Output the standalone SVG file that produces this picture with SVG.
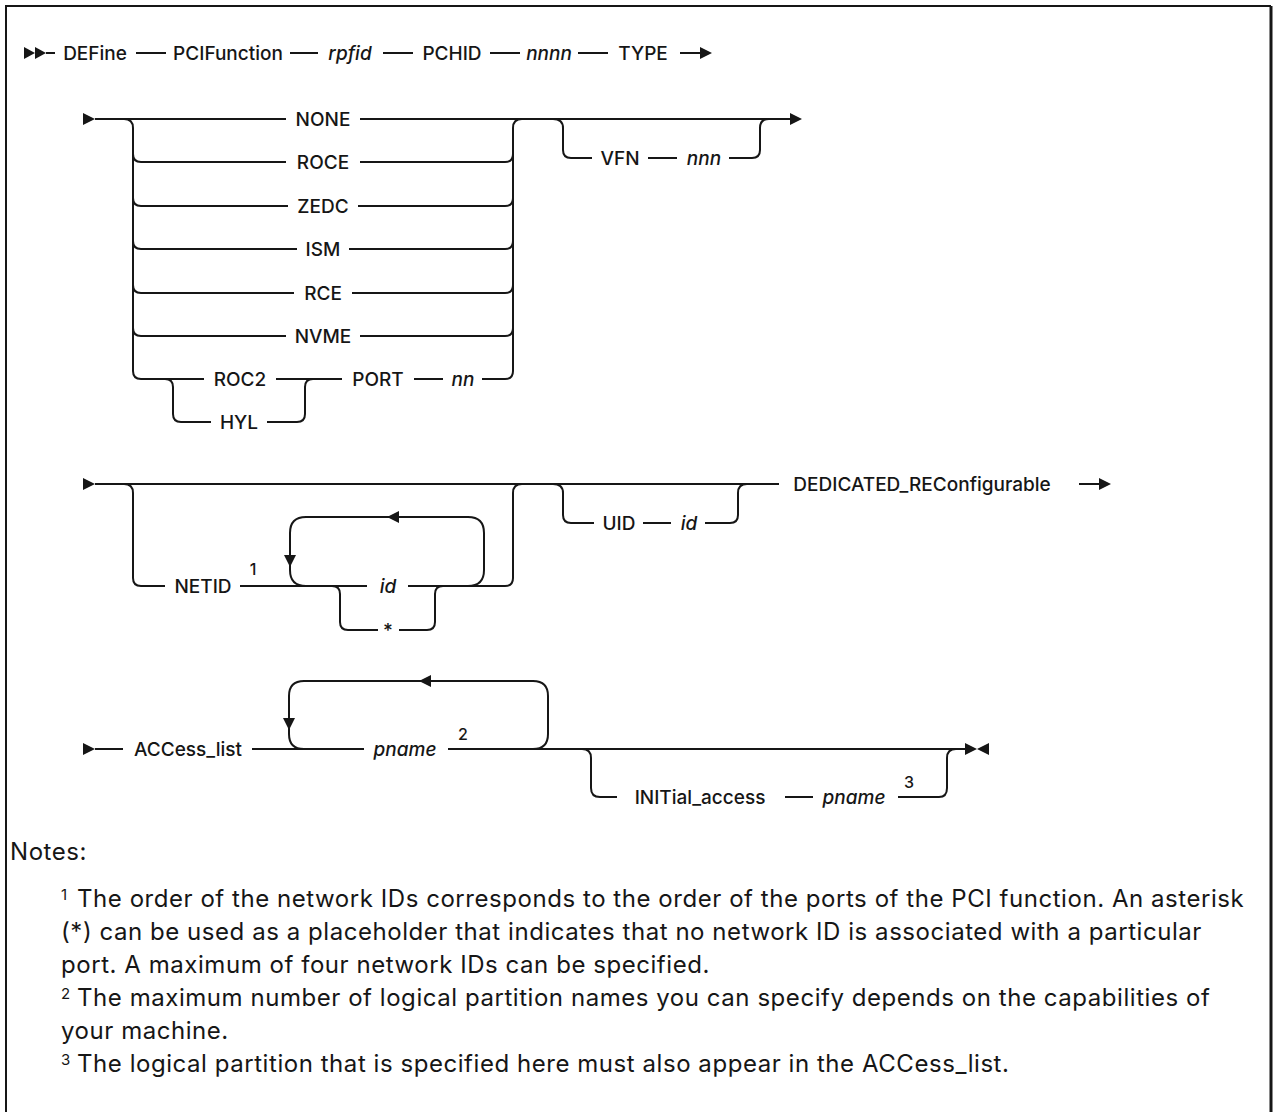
<svg xmlns="http://www.w3.org/2000/svg" width="1274" height="1112" viewBox="0 0 1274 1112">
<style>
.t{font-family:Inter,"Liberation Sans",Arial,sans-serif;font-size:19px;font-weight:500;fill:#161616;text-anchor:middle}
.i{font-style:italic}
.s{font-size:16px}
.n{font-family:Inter,"Liberation Sans",Arial,sans-serif;font-size:24px;letter-spacing:0.55px;fill:#161616}
.ns{font-family:Inter,"Liberation Sans",Arial,sans-serif;font-size:15px;fill:#161616}
.c{fill:none;stroke:#161616;stroke-width:2}
.a{fill:#161616;stroke:none}
</style>
<rect width="1274" height="1112" fill="#fff"/>
<path d="M6,1112 V6 H1271" fill="none" stroke="#161616" stroke-width="2"/>
<path d="M1271,6 V1112" fill="none" stroke="#161616" stroke-width="3"/>

<g id="connectors">
<!-- row 1 -->
<polygon class="a" points="24,47 35,53 24,59"/>
<polygon class="a" points="35,47 46,53 35,59"/>
<path class="c" d="M46,53 H55 M136,53 H166 M290,53 H318 M383,53 H413 M490,53 H520 M578,53 H608 M680,53 H701"/>
<polygon class="a" points="700,47 712,53 700,59"/>
<!-- row 2 -->
<polygon class="a" points="83,113 95,119 83,125"/>
<path class="c" d="M95,119 H286 M360,119 H790"/>
<polygon class="a" points="790,113 802,119 790,125"/>
<path class="c" d="M124,119 Q133,119 133,128 V371 Q133,379 141,379 H204"/>
<path class="c" d="M133,154 Q133,162 141,162 H286 M360,162 H505 Q513,162 513,154"/>
<path class="c" d="M133,198 Q133,206 141,206 H288 M358,206 H505 Q513,206 513,198"/>
<path class="c" d="M133,241 Q133,249 141,249 H297 M349,249 H505 Q513,249 513,241"/>
<path class="c" d="M133,285 Q133,293 141,293 H294 M352,293 H505 Q513,293 513,285"/>
<path class="c" d="M133,328 Q133,336 141,336 H286 M360,336 H505 Q513,336 513,328"/>
<path class="c" d="M276,379 H342 M414,379 H443 M482,379 H505 Q513,379 513,371 V128 Q513,119 522,119"/>
<path class="c" d="M165,379 Q173,379 173,387 V414 Q173,422 181,422 H211 M267,422 H297 Q305,422 305,414 V387 Q305,379 313,379"/>
<path class="c" d="M553,119 Q563,119 563,128 V150 Q563,158 571,158 H592 M648,158 H677 M729,158 H752 Q760,158 760,150 V128 Q760,119 769,119"/>
<!-- row 3 -->
<polygon class="a" points="83,478 95,484 83,490"/>
<path class="c" d="M95,484 H779"/>
<path class="c" d="M124,484 Q133,484 133,493 V578 Q133,586 141,586 H165"/>
<path class="c" d="M240,586 H367 M408,586 H505 Q513,586 513,578 V493 Q513,484 522,484"/>
<path class="c" d="M468,586 Q484,586 484,570 V533 Q484,517 468,517 H306 Q290,517 290,533 V570 Q290,586 306,586"/>
<polygon class="a" points="387,517 399,511 399,523"/>
<polygon class="a" points="284,555 296,555 290,567"/>
<path class="c" d="M332,586 Q340,586 340,594 V622 Q340,630 348,630 H378 M399,630 H427 Q435,630 435,622 V594 Q435,586 443,586"/>
<path class="c" d="M553,484 Q563,484 563,493 V515 Q563,523 571,523 H594 M643,523 H671 M705,523 H730 Q738,523 738,515 V493 Q738,484 747,484"/>
<path class="c" d="M1079,484 H1100"/>
<polygon class="a" points="1099,478 1111,484 1099,490"/>
<!-- row 4 -->
<polygon class="a" points="83,743 95,749 83,755"/>
<path class="c" d="M95,749 H123 M252,749 H364 M448,749 H965"/>
<path class="c" d="M533,749 Q548,749 548,734 V696 Q548,681 533,681 H304 Q289,681 289,696 V734 Q289,749 304,749"/>
<polygon class="a" points="419,681 431,675 431,687"/>
<polygon class="a" points="283,718 295,718 289,730"/>
<path class="c" d="M582,749 Q591,749 591,758 V788 Q591,797 600,797 H617 M785,797 H813 M898,797 H939 Q947,797 947,788 V758 Q947,749 956,749"/>
<polygon class="a" points="965,743 977,749 965,755"/>
<polygon class="a" points="989,743 977,749 989,755"/>
</g>

<g id="row1">
<g id="n-define"><text class="t" x="95" y="60">DEFine</text></g>
<g id="n-pcifunction"><text class="t" x="228" y="60">PCIFunction</text></g>
<g id="n-rpfid"><text class="t i" x="350" y="60">rpfid</text></g>
<g id="n-pchid"><text class="t" x="452" y="60">PCHID</text></g>
<g id="n-nnnn"><text class="t i" x="549" y="60">nnnn</text></g>
<g id="n-type"><text class="t" x="643" y="60">TYPE</text></g>
</g>

<g id="row2">
<g id="n-none"><text class="t" x="323" y="126">NONE</text></g>
<g id="n-roce"><text class="t" x="323" y="169">ROCE</text></g>
<g id="n-zedc"><text class="t" x="323" y="213">ZEDC</text></g>
<g id="n-ism"><text class="t" x="323" y="256">ISM</text></g>
<g id="n-rce"><text class="t" x="323" y="300">RCE</text></g>
<g id="n-nvme"><text class="t" x="323" y="343">NVME</text></g>
<g id="n-roc2"><text class="t" x="240" y="386">ROC2</text></g>
<g id="n-hyl"><text class="t" x="239" y="429">HYL</text></g>
<g id="n-port"><text class="t" x="378" y="386">PORT</text></g>
<g id="n-nn"><text class="t i" x="463" y="386">nn</text></g>
<g id="n-vfn"><text class="t" x="620" y="165">VFN</text></g>
<g id="n-nnn"><text class="t i" x="704" y="165">nnn</text></g>
</g>

<g id="row3">
<g id="n-netid"><text class="t" x="203" y="593">NETID</text><text class="t s" x="253" y="575">1</text></g>
<g id="n-id"><text class="t i" x="388" y="593">id</text></g>
<g id="n-star"><text class="t" x="388" y="637">*</text></g>
<g id="n-uid"><text class="t" x="619" y="530">UID</text></g>
<g id="n-uid-id"><text class="t i" x="689" y="530">id</text></g>
<g id="n-dedicated"><text class="t" x="922" y="491">DEDICATED_REConfigurable</text></g>
</g>

<g id="row4">
<g id="n-access"><text class="t" x="188" y="756">ACCess_list</text></g>
<g id="n-pname"><text class="t i" x="405" y="756">pname</text><text class="t s" x="463" y="740">2</text></g>
<g id="n-initial"><text class="t" x="700" y="804">INITial_access</text></g>
<g id="n-pname2"><text class="t i" x="854" y="804">pname</text><text class="t s" x="909" y="788">3</text></g>
</g>

<g id="notes">
<text class="n" x="10" y="860">Notes:</text>
<text class="ns" x="61" y="900">1</text>
<text class="n" x="77" y="907">The order of the network IDs corresponds to the order of the ports of the PCI function. An asterisk</text>
<text class="n" x="61" y="940">(*) can be used as a placeholder that indicates that no network ID is associated with a particular</text>
<text class="n" x="61" y="973">port. A maximum of four network IDs can be specified.</text>
<text class="ns" x="61" y="999">2</text>
<text class="n" x="77" y="1006">The maximum number of logical partition names you can specify depends on the capabilities of</text>
<text class="n" x="61" y="1039">your machine.</text>
<text class="ns" x="61" y="1065">3</text>
<text class="n" x="77" y="1072">The logical partition that is specified here must also appear in the ACCess_list.</text>
</g>
</svg>
